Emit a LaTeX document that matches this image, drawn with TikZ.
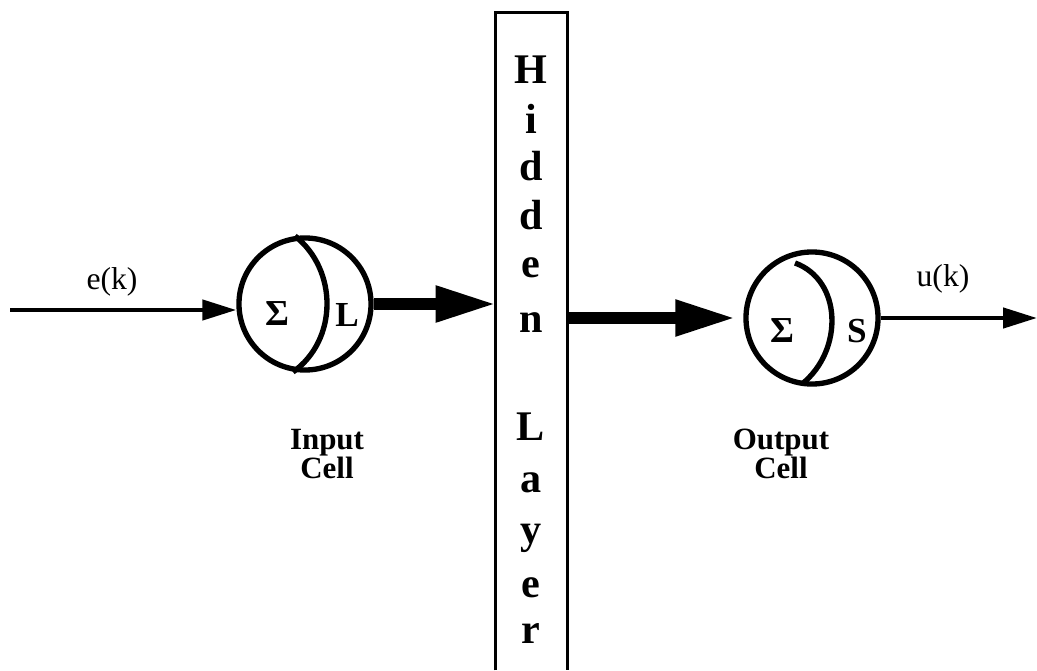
\documentclass[tikz,border=0pt]{standalone}
\usepackage{fontspec}
\setmainfont{Liberation Serif}
\usepackage{tikz}
\usetikzlibrary{shapes,arrows.meta,positioning}

\tikzset{
  cell/.style={circle, draw, line width=3.8pt, minimum size=3.3cm, inner sep=0pt},
  layer/.style={rectangle, minimum width=1.775cm, minimum height=16.425cm, inner sep=0pt},
  boxline/.style={line width=2.2pt},
  thinarrow/.style={line width=3.2pt, -{Triangle[length=0.85cm, width=0.5cm]}},
  fatarrow/.style={line width=8pt, -{Triangle[length=1.5cm, width=0.85cm]}},
  sigla/.style={font=\bfseries\fontsize{26}{26}\selectfont},
  flabel/.style={font=\bfseries\fontsize{25}{25}\selectfont},
  siglabel/.style={font=\fontsize{22.5}{22.5}\selectfont},
  cellname/.style={font=\bfseries\fontsize{22}{18}\selectfont, align=center},
  hidletter/.style={font=\bfseries\fontsize{30}{30}\selectfont, inner sep=0pt}
}

\begin{document}
\begin{tikzpicture}[x=0.025cm, y=-0.025cm]
  \useasboundingbox (0,0) rectangle (1037,670);

  % cells
  \node[cell] (incell) at (305,304) {};
  \node[cell] (outcell) at (812,318) {};
  \draw[line width=3.8pt] (295,236) .. controls (338,270) and (338,340) .. (293,372);
  \draw[line width=3.8pt] (795,263) .. controls (842,280) and (844,350) .. (802,384);
  \node[sigla] (insum) at (277,314) {Σ};
  \node[flabel] (infn) at (347,315) {L};
  \node[sigla] (outsum) at (782,331) {Σ};
  \node[flabel] (outfn) at (857,331) {S};

  % hidden layer column, open at the bottom
  \node[layer] (hidden) at (531.5,341.5) {};
  \draw[boxline] (hidden.south west) -- (hidden.north west) -- (hidden.north east) -- (hidden.south east);
  \foreach \ch/\yb [count=\k] in {H/83, i/133, d/180, d/229, e/277, n/332, L/440, a/492, y/543, e/597, r/643}
    \node[hidletter, anchor=base] (hl\k) at (531,\yb) {\ch};

  % signals
  \coordinate (ein) at (10,310);
  \coordinate (uout) at (1037,318);
  \draw[thinarrow] (ein) -- (ein -| incell.west);
  \node[siglabel] (elabel) at (112,282) {e(k)};
  \draw[fatarrow] (incell.east) -- (incell.east -| hidden.west);
  \draw[fatarrow, shorten >=0.2cm] (hidden.east |- outcell) -- (outcell.west);
  \draw[thinarrow] (outcell.east) -- (uout);
  \node[siglabel] (ulabel) at (943,279) {u(k)};

  \node[cellname] (inname) at (327,454) {Input\\Cell};
  \node[cellname] (outname) at (781,454) {Output\\Cell};
\end{tikzpicture}
\end{document}
